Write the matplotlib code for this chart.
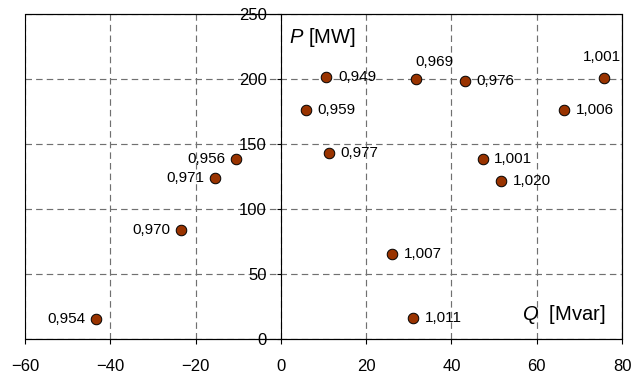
"""
Scatter of operating points: active power P against reactive power Q,
each point labelled with its bus voltage (p.u.).
"""

import matplotlib
matplotlib.use("Agg")
import matplotlib.pyplot as plt
from matplotlib.patches import Rectangle

# -----------------------------------------------------------------------------
# Data
# -----------------------------------------------------------------------------
q_mvar = [-43.4, -23.5, -15.4, -10.5, 5.9, 10.7, 11.3, 26.0, 30.9,
          31.8, 43.1, 47.3, 51.7, 66.4, 75.7]
p_mw = [15.4, 83.8, 123.6, 138.2, 176.0, 201.8, 143.3, 65.1, 15.9,
        200.0, 198.7, 138.5, 121.8, 175.9, 200.5]
voltage_labels = ["0,954", "0,970", "0,971", "0,956", "0,959", "0,949", "0,977", "1,007", "1,011",
                  "0,969", "0,976", "1,001", "1,020", "1,006", "1,001"]

x_ticks = [-60, -40, -20, 0, 20, 40, 60, 80]
y_ticks = [0, 50, 100, 150, 200, 250]

# Where each label sits relative to its point: l = left, r = right,
# a = above (left-aligned), c = above (centred)
label_side = ["l", "l", "l", "l", "r", "r", "r", "r", "r",
              "a", "r", "r", "r", "r", "c"]

# -----------------------------------------------------------------------------
# Styling
# -----------------------------------------------------------------------------
plt.rcParams["font.family"] = ["Liberation Sans", "DejaVu Sans"]
plt.rcParams["mathtext.fontset"] = "custom"
plt.rcParams["mathtext.it"] = "Liberation Sans:italic"
plt.rcParams["mathtext.rm"] = "Liberation Sans"

MARKER_COLOR = "#993300"
GRID_COLOR = "#707070"
FRAME_LW = 0.8

fig = plt.figure(figsize=(6.44, 3.71), dpi=100)
ax = fig.add_axes([25 / 644, 32 / 371, 597 / 644, 325 / 371])

ax.set_xlim(x_ticks[0], x_ticks[-1])
ax.set_ylim(y_ticks[0], y_ticks[-1])
ax.set_xticks(x_ticks)
ax.set_yticks(y_ticks)

# y axis drawn through Q = 0, the outer box drawn separately
ax.spines["left"].set_position(("data", 0))
for side in ["left", "right", "top", "bottom"]:
  ax.spines[side].set_linewidth(FRAME_LW)
ax.add_patch(Rectangle((0, 0), 1, 1, transform=ax.transAxes, fill=False,
                       edgecolor="black", linewidth=FRAME_LW, zorder=2.5, clip_on=False))

ax.tick_params(axis="x", direction="out", length=3.5, width=0.8, pad=11, labelsize=12)
ax.tick_params(axis="y", direction="out", length=3, width=0.8, pad=7, labelsize=12)

ax.grid(True, color=GRID_COLOR, linestyle=(0, (5.5, 3.5)), linewidth=0.85)

# -----------------------------------------------------------------------------
# Points and labels
# -----------------------------------------------------------------------------
ax.plot(q_mvar, p_mw, "o", markersize=7.6, markerfacecolor=MARKER_COLOR,
        markeredgecolor="black", markeredgewidth=0.7, zorder=3, clip_on=False)

offsets = {
  "r": ((8.5, 0), "left", "center"),
  "l": ((-7.5, 0), "right", "center"),
  "a": ((-0.5, 7), "left", "bottom"),
  "c": ((-1.5, 10), "center", "bottom"),
}
for qx, py, txt, side in zip(q_mvar, p_mw, voltage_labels, label_side):
  off, ha, va = offsets[side]
  ax.annotate(txt, (qx, py), xytext=off, textcoords="offset points",
              ha=ha, va=va, fontsize=11, zorder=4)

# Axis captions inside the plot area
ax.text(2.0, 227.5, r"$\mathit{P}$ [MW]", fontsize=14.5, ha="left", va="baseline")
ax.text(56.5, 14.6, r"$\mathit{Q}$  [Mvar]", fontsize=14.5, ha="left", va="baseline")

fig.savefig("out.png", dpi=100)
